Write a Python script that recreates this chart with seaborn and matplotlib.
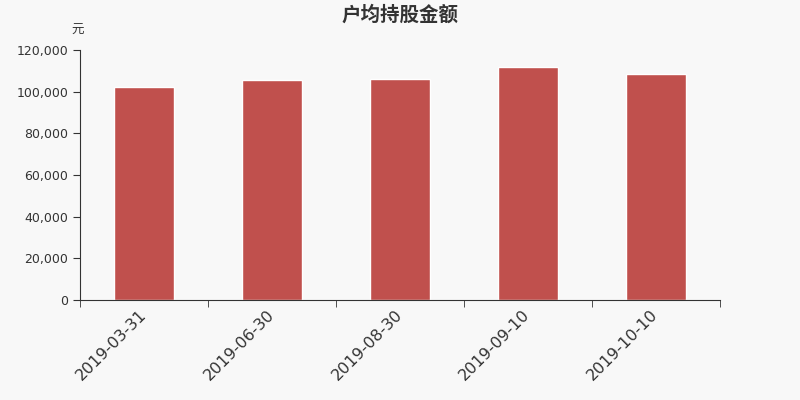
import pandas as pd
import seaborn as sns
import matplotlib.pyplot as plt
from matplotlib.ticker import FuncFormatter
import matplotlib.transforms as mtransforms

dates = ["2019-03-31", "2019-06-30", "2019-08-30", "2019-09-10", "2019-10-10"]
amounts = [102200, 105600, 105900, 111700, 108500]

df = pd.DataFrame({"date": dates, "amount": amounts})

sns.set_style("ticks")
plt.rcParams["font.family"] = ["DejaVu Sans", "Noto Sans CJK SC"]

fig = plt.figure(figsize=(8, 4), dpi=100, facecolor="#f8f8f8")
ax = fig.add_axes([0.1, 0.25, 0.8, 0.625])
ax.set_facecolor("#f8f8f8")

sns.barplot(data=df, x="date", y="amount", color="#c0504d", width=0.47,
            saturation=1, ax=ax)

ax.set_xlim(-0.5, len(dates) - 0.5)
ax.set_ylim(0, 120000)
ax.set_yticks(range(0, 120001, 20000))
ax.yaxis.set_major_formatter(FuncFormatter(lambda v, p: f"{int(v):,}"))

ax.set_xticks(range(len(dates)))
ax.set_xticklabels(dates, rotation=45, ha="right", rotation_mode="anchor",
                   fontsize=11.5, color="#333333")
ax.tick_params(axis="x", which="major", length=0, pad=3)
shift = mtransforms.ScaledTranslation(-4 / 72, -2 / 72, fig.dpi_scale_trans)
for lbl in ax.get_xticklabels():
    lbl.set_transform(lbl.get_transform() + shift)
ax.set_xticks([i - 0.5 for i in range(len(dates) + 1)], minor=True)
ax.tick_params(axis="x", which="minor", length=5, color="#333333")
ax.tick_params(axis="y", length=5, color="#333333", labelsize=9, labelcolor="#333333")

for s in ["top", "right"]:
    ax.spines[s].set_visible(False)
for s in ["left", "bottom"]:
    ax.spines[s].set_color("#333333")

ax.set_xlabel("")
ax.set_ylabel("")
ax.text(-0.003, 1.08, "元", transform=ax.transAxes, ha="center", va="center",
        fontsize=9, color="#333333", family=["Noto Sans CJK SC", "DejaVu Sans"])
fig.text(0.5, 0.962, "户均持股金额", ha="center", va="center", fontsize=14,
         fontweight="semibold", color="#333333", family=["Noto Sans CJK SC", "DejaVu Sans"])

fig.savefig("out.png", dpi=100, facecolor=fig.get_facecolor())
